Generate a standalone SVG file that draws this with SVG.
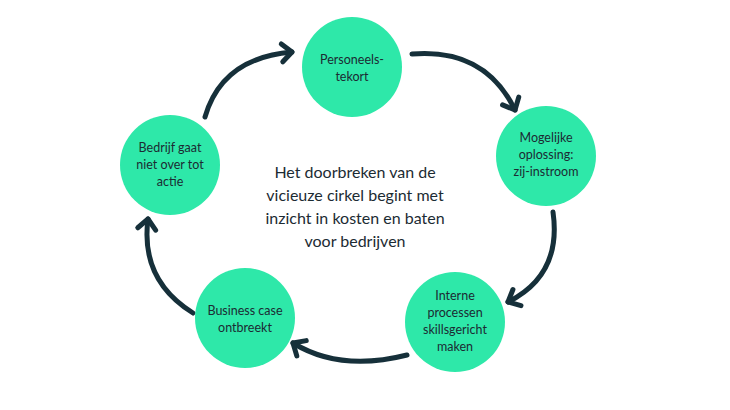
<svg xmlns="http://www.w3.org/2000/svg" width="730" height="410" viewBox="0 0 730 410">
<style>
.n{fill:#2ee8a9}
.t{font-family:"Lato","Liberation Sans",sans-serif;font-size:12.5px;fill:#1c2b33;text-anchor:middle}
.c{font-family:"Lato","Liberation Sans",sans-serif;font-size:16px;fill:#1c2b33;text-anchor:middle}
.a{fill:none;stroke:#16303a;stroke-width:5;stroke-linecap:round;marker-end:url(#h)}
</style>
<defs><marker id="h" markerUnits="userSpaceOnUse" markerWidth="30" markerHeight="30" refX="0" refY="0" viewBox="-15 -15 30 30" orient="auto" overflow="visible"><path d="M-10,-9 L0,0 L-10,9" fill="none" stroke="#16303a" stroke-width="5" stroke-linecap="round" stroke-linejoin="round"/></marker></defs>
<rect width="730" height="410" fill="#fff"/>
<g id="connectors">
<path class="a" d="M412,54 Q485,48 515,110"/>
<path class="a" d="M553,212 Q562,275 508,302"/>
<path class="a" d="M407,355 Q340,372 293,343"/>
<path class="a" d="M193,313 Q140,280 148,219"/>
<path class="a" d="M205,117 Q222,58 292,52"/>
</g>
<g id="n1"><circle class="n" cx="352" cy="67" r="50"/><text class="t" x="352" y="64">Personeels-</text><text class="t" x="352" y="81">tekort</text></g>
<g id="n2"><circle class="n" cx="546" cy="156" r="50"/><text class="t" x="546" y="142">Mogelijke</text><text class="t" x="546" y="159">oplossing:</text><text class="t" x="546" y="176">zij-instroom</text></g>
<g id="n3"><circle class="n" cx="455" cy="322" r="50"/><text class="t" x="455" y="300">Interne</text><text class="t" x="455" y="317">processen</text><text class="t" x="455" y="334">skillsgericht</text><text class="t" x="455" y="351">maken</text></g>
<g id="n4"><circle class="n" cx="245" cy="318" r="50"/><text class="t" x="245" y="315">Business case</text><text class="t" x="245" y="332">ontbreekt</text></g>
<g id="n5"><circle class="n" cx="170" cy="165" r="50"/><text class="t" x="170" y="152">Bedrijf gaat</text><text class="t" x="170" y="169">niet over tot</text><text class="t" x="170" y="186">actie</text></g>
<g id="center"><text class="c" x="355" y="178">Het doorbreken van de</text><text class="c" x="355" y="201">vicieuze cirkel begint met</text><text class="c" x="355" y="224">inzicht in kosten en baten</text><text class="c" x="355" y="247">voor bedrijven</text></g>
</svg>
